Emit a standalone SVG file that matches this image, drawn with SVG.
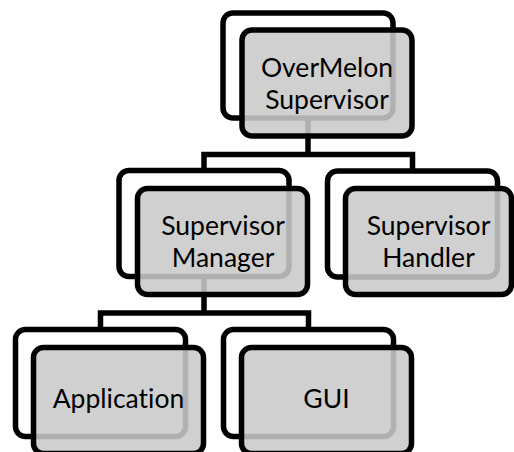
<svg xmlns="http://www.w3.org/2000/svg" width="514" height="452" viewBox="0 0 514 452">
<style>
.back{fill:#ffffff;stroke:#000;stroke-width:5.5}
.front{fill:#c9c9c9;fill-opacity:0.875;stroke:#000;stroke-width:5.5}
.conn{fill:none;stroke:#000;stroke-width:5.5;stroke-linejoin:miter}
text{font-family:Lato,"Open Sans","Liberation Sans",sans-serif;font-size:26.5px;fill:#000;text-anchor:middle;font-variant-ligatures:none;font-feature-settings:"liga" 0,"clig" 0,"calt" 0,"dlig" 0;letter-spacing:0.01px}
</style>
<rect width="514" height="452" fill="#fff"/>
<g id="connectors">
<path class="conn" d="M308,118 V154.5 M204,170.5 V154.5 H412.5 V171"/>
<path class="conn" d="M204,276.5 V313 M100.5,329.5 V313 H308.5 V329.5"/>
</g>
<g id="node-overmelon">
<rect class="back" x="223" y="13" width="170" height="105" rx="10"/>
<rect class="front" x="242" y="30" width="170" height="106" rx="10"/>
<text x="327" y="77">OverMelon</text>
<text x="327" y="109">Supervisor</text>
</g>
<g id="node-manager">
<rect class="back" x="119" y="170.5" width="170" height="106" rx="10"/>
<rect class="front" x="137.5" y="188.5" width="170" height="106" rx="10"/>
<text x="223" y="235">Supervisor</text>
<text x="223" y="267">Manager</text>
</g>
<g id="node-handler">
<rect class="back" x="327.5" y="171" width="170" height="106" rx="10"/>
<rect class="front" x="345.5" y="188.5" width="166" height="106" rx="10"/>
<text x="428.5" y="235">Supervisor</text>
<text x="428.5" y="267">Handler</text>
</g>
<g id="node-application">
<rect class="back" x="15.5" y="329.5" width="170" height="107" rx="10"/>
<rect class="front" x="33.5" y="347.5" width="170" height="106" rx="10"/>
<text x="118.5" y="408">Application</text>
</g>
<g id="node-gui">
<rect class="back" x="223.5" y="329.5" width="170" height="107" rx="10"/>
<rect class="front" x="241.5" y="347.5" width="170" height="106" rx="10"/>
<text x="326.5" y="408">GUI</text>
</g>
</svg>
